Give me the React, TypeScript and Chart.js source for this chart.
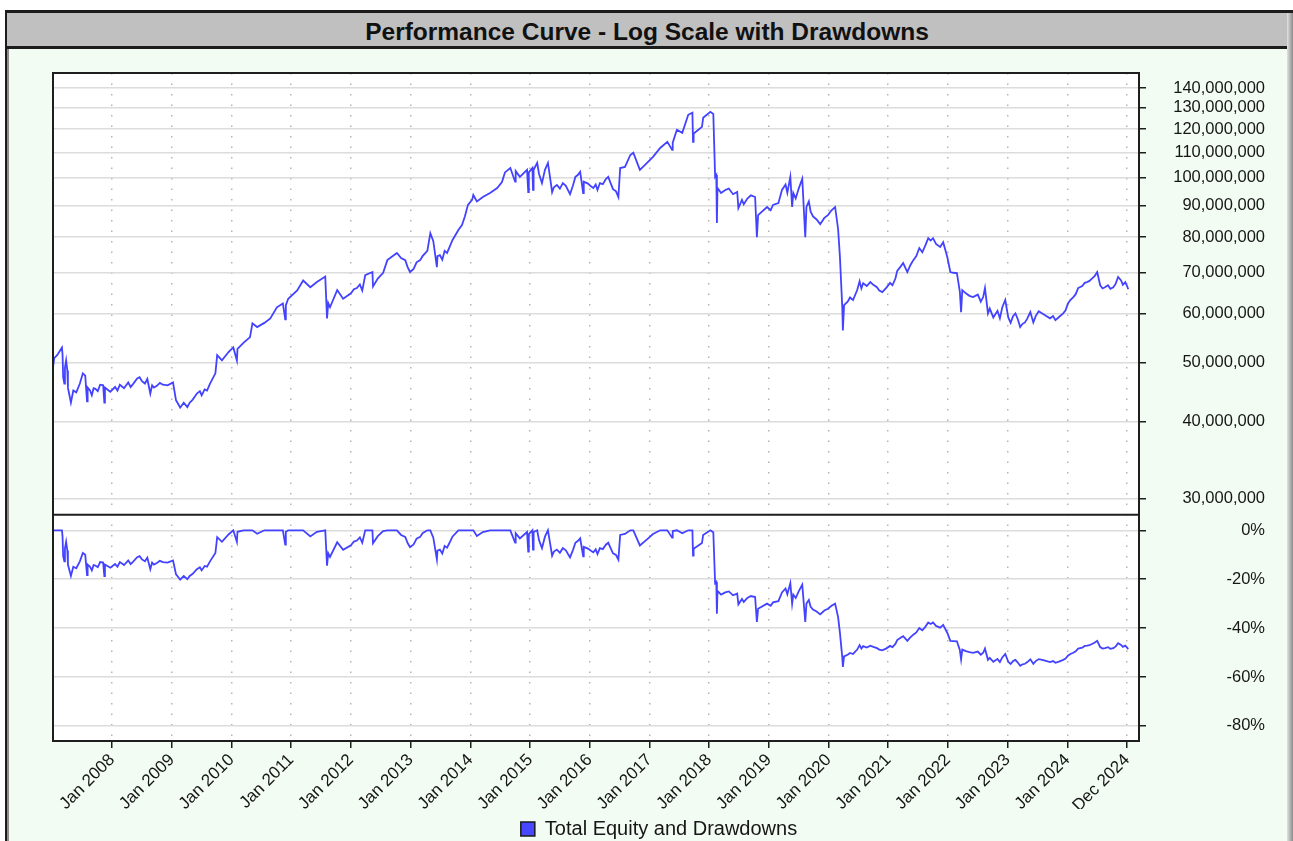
import React, { useEffect, useRef } from 'react';
import { Chart, registerables } from 'chart.js';

Chart.register(...registerables);

const FONT = '"Liberation Sans", Arial, Helvetica, sans-serif';

// ---- Data ----
// Dates as decimal years
const dates: number[] = [
  // 2007
  2007.01, 2007.03, 2007.08, 2007.16, 2007.17, 2007.18, 2007.20, 2007.21, 2007.23, 2007.25,
  2007.26, 2007.31, 2007.35, 2007.40, 2007.46, 2007.51, 2007.55, 2007.58, 2007.59, 2007.63,
  2007.66, 2007.69, 2007.72, 2007.76, 2007.80, 2007.85, 2007.87, 2007.88, 2007.97,
  // 2008
  2008.05, 2008.09, 2008.13, 2008.20, 2008.27, 2008.31, 2008.35, 2008.42, 2008.46, 2008.50,
  2008.55, 2008.59, 2008.64, 2008.67, 2008.70, 2008.75, 2008.80, 2008.85, 2008.93,
  // 2009
  2009.02, 2009.07, 2009.10, 2009.14, 2009.20, 2009.26, 2009.30, 2009.35, 2009.42, 2009.47,
  2009.50, 2009.55, 2009.59, 2009.64, 2009.73, 2009.76, 2009.84, 2009.95,
  // 2010
  2010.03, 2010.09, 2010.10, 2010.20, 2010.31, 2010.35, 2010.43, 2010.55, 2010.65, 2010.76,
  2010.86, 2010.90, 2010.91, 2010.95,
  // 2011
  2011.10, 2011.20, 2011.32, 2011.43, 2011.57, 2011.60, 2011.62, 2011.65, 2011.77, 2011.87,
  // 2012
  2012.00, 2012.05, 2012.10, 2012.15, 2012.19, 2012.24, 2012.36, 2012.37, 2012.45, 2012.54,
  2012.61, 2012.77, 2012.84, 2012.91, 2012.95, 2012.99,
  // 2013
  2013.05, 2013.10, 2013.16, 2013.20, 2013.28, 2013.33, 2013.38, 2013.44, 2013.45, 2013.49,
  2013.53, 2013.57, 2013.61, 2013.65, 2013.70, 2013.80, 2013.86, 2013.91, 2013.96,
  // 2014
  2014.03, 2014.05, 2014.11, 2014.21, 2014.33, 2014.45, 2014.53, 2014.58, 2014.67, 2014.75,
  2014.76, 2014.83, 2014.95, 2014.97, 2014.98,
  // 2015
  2015.04, 2015.05, 2015.06, 2015.12, 2015.15, 2015.20, 2015.25, 2015.30, 2015.33, 2015.37,
  2015.40, 2015.45, 2015.50, 2015.55, 2015.60, 2015.67, 2015.72, 2015.76, 2015.80, 2015.84,
  2015.89, 2015.90, 2015.97,
  // 2016
  2016.02, 2016.06, 2016.10, 2016.13, 2016.17, 2016.22, 2016.27, 2016.31, 2016.35, 2016.39,
  2016.44, 2016.48, 2016.51, 2016.59, 2016.68, 2016.73, 2016.84, 2016.96,
  // 2017
  2017.06, 2017.18, 2017.30, 2017.38, 2017.39, 2017.46, 2017.55, 2017.65, 2017.72, 2017.73,
  2017.74, 2017.82, 2017.88, 2017.90,
  // 2018
  2018.02, 2018.07, 2018.10, 2018.12, 2018.13, 2018.14, 2018.20, 2018.27, 2018.33, 2018.40,
  2018.47, 2018.49, 2018.55, 2018.58, 2018.64, 2018.70, 2018.77, 2018.80, 2018.82, 2018.97,
  // 2019
  2019.03, 2019.07, 2019.16, 2019.22, 2019.28, 2019.31, 2019.36, 2019.39, 2019.41, 2019.45,
  2019.50, 2019.56, 2019.61, 2019.63, 2019.67, 2019.70, 2019.74, 2019.80, 2019.86, 2019.93,
  2019.99,
  // 2020
  2020.05, 2020.11, 2020.16, 2020.19, 2020.23, 2020.24, 2020.26, 2020.32, 2020.36, 2020.41,
  2020.48, 2020.52, 2020.55, 2020.58, 2020.64, 2020.70, 2020.75, 2020.81, 2020.85, 2020.90,
  2020.97,
  // 2021
  2021.03, 2021.07, 2021.12, 2021.15, 2021.20, 2021.25, 2021.32, 2021.37, 2021.42, 2021.47,
  2021.52, 2021.57, 2021.62, 2021.67, 2021.71, 2021.75, 2021.80, 2021.87, 2021.92, 2021.99,
  // 2022
  2022.04, 2022.09, 2022.15, 2022.20, 2022.22, 2022.24, 2022.30, 2022.36, 2022.42, 2022.50,
  2022.55, 2022.59, 2022.62, 2022.67, 2022.70, 2022.76, 2022.83, 2022.87, 2022.91, 2022.96,
  // 2023
  2023.01, 2023.05, 2023.09, 2023.13, 2023.17, 2023.21, 2023.25, 2023.29, 2023.33, 2023.38,
  2023.43, 2023.47, 2023.52, 2023.58, 2023.64, 2023.71, 2023.76, 2023.80, 2023.86, 2023.93,
  2023.97,
  // 2024
  2024.01, 2024.05, 2024.10, 2024.14, 2024.18, 2024.25, 2024.29, 2024.33, 2024.37, 2024.42,
  2024.46, 2024.50, 2024.55, 2024.59, 2024.63, 2024.68, 2024.72, 2024.77, 2024.81, 2024.85,
  2024.90, 2024.93, 2024.97, 2025.00, 2025.02,
];

// Total equity, in millions
const equity: number[] = [
  // 2007
  49.1, 50.8, 51.4, 52.9, 51.5, 47.3, 46.2, 49.0, 50.4, 48.5,
  45.5, 43.0, 45.0, 44.7, 46.2, 48.0, 47.6, 43.2, 45.5, 45.0,
  44.2, 45.4, 45.3, 44.9, 46.0, 45.9, 43.0, 45.5, 44.8,
  // 2008
  45.6, 45.0, 46.0, 45.4, 46.4, 45.6, 46.1, 47.1, 47.3, 46.6,
  46.2, 47.0, 44.5, 45.9, 45.5, 45.8, 46.3, 46.0, 45.9,
  // 2009
  46.4, 43.4, 42.9, 42.2, 43.0, 42.3, 43.0, 43.5, 44.5, 44.9,
  44.2, 45.2, 45.0, 46.2, 48.0, 51.4, 50.4, 52.0,
  // 2010
  52.9, 50.4, 52.6, 53.8, 55.0, 57.9, 57.1, 58.0, 59.0, 61.5,
  62.4, 58.8, 62.0, 63.5,
  // 2011
  65.5, 68.0, 66.3, 67.6, 69.0, 59.0, 62.5, 61.5, 65.6, 63.5,
  // 2012
  64.8, 65.8, 66.1, 67.0, 65.5, 69.4, 70.2, 66.5, 68.5, 70.0,
  73.4, 75.4, 74.0, 73.4, 71.5, 70.2,
  // 2013
  71.0, 72.8, 73.4, 74.5, 76.0, 81.2, 78.8, 71.5, 74.5, 74.8,
  73.5, 76.0, 75.4, 77.0, 79.1, 82.2, 83.7, 86.5, 90.3,
  // 2014
  92.0, 93.7, 91.5, 93.0, 94.4, 96.2, 98.4, 102.0, 103.7, 98.5,
  102.5, 100.3, 103.0, 94.7, 102.0,
  // 2015
  103.7, 95.5, 103.0, 105.7, 101.5, 98.0, 103.0, 105.7, 101.0, 94.7,
  96.5, 97.3, 96.0, 98.0, 97.0, 94.0, 97.2, 100.3, 101.0, 102.2,
  94.4, 98.5, 97.8,
  // 2016
  96.8, 96.2, 97.5, 95.5, 98.0, 97.6, 99.5, 100.3, 98.0, 95.8,
  95.0, 93.0, 103.7, 104.1, 108.9, 109.8, 103.0, 105.7,
  // 2017
  108.1, 111.8, 114.4, 111.0, 114.0, 119.7, 118.3, 126.6, 127.6, 114.4,
  118.0, 119.7, 121.0, 125.2,
  // 2018
  128.0, 127.0, 100.3, 101.0, 84.4, 96.2, 94.4, 95.5, 96.0, 94.0,
  94.8, 89.2, 92.0, 90.5, 92.5, 93.6, 93.0, 80.0, 86.9, 89.6,
  // 2019
  88.5, 90.3, 90.9, 95.5, 97.5, 94.5, 100.3, 89.6, 94.4, 92.5,
  96.0, 99.6, 80.0, 89.6, 91.5, 88.0, 86.5, 85.5, 84.0, 86.0,
  86.9,
  // 2020
  88.5, 89.6, 82.5, 74.5, 61.5, 56.4, 62.0, 62.8, 63.8, 63.2,
  65.6, 67.8, 66.0, 67.3, 66.6, 67.6, 66.9, 66.3, 65.5, 65.1,
  66.2,
  // 2021
  67.4, 66.8, 68.5, 70.5, 71.5, 72.6, 70.2, 72.0, 73.4, 74.5,
  76.8, 75.6, 77.5, 79.7, 79.0, 79.7, 78.0, 77.1, 78.5, 74.2,
  // 2022
  70.2, 70.0, 69.9, 65.1, 60.4, 65.6, 64.8, 64.2, 63.9, 64.5,
  62.8, 63.9, 66.1, 60.1, 61.2, 59.2, 60.7, 59.0, 61.5, 63.2,
  // 2023
  59.2, 58.0, 59.5, 60.1, 58.8, 57.1, 57.8, 58.1, 59.0, 60.4,
  58.1, 59.5, 60.6, 60.1, 59.6, 59.0, 59.5, 58.6, 59.3, 60.1,
  60.8,
  // 2024
  62.4, 63.2, 63.9, 64.6, 66.1, 66.6, 67.4, 67.6, 67.9, 68.6,
  69.2, 70.2, 66.8, 66.0, 66.3, 66.8, 65.9, 66.3, 67.2, 68.9,
  68.0, 66.9, 67.6, 66.6, 65.8,
];

// Drawdown, in percent
const drawdown: number[] = [
  // 2007
  0, 0, 0, 0, -2.6, -10.6, -12.7, -7.4, -4.7, -8.3,
  -14.0, -18.7, -14.9, -15.5, -12.7, -9.3, -10.0, -18.3, -14.0, -14.9,
  -16.4, -14.2, -14.4, -15.1, -13.0, -13.2, -18.7, -14.0, -15.3,
  // 2008
  -13.8, -14.9, -13.0, -14.2, -12.3, -13.8, -12.9, -11.0, -10.6, -11.9,
  -12.7, -11.2, -15.9, -13.2, -14.0, -13.4, -12.5, -13.0, -13.2,
  // 2009
  -12.3, -18.0, -18.9, -20.2, -18.7, -20.0, -18.7, -17.8, -15.9, -15.1,
  -16.4, -14.6, -14.9, -12.7, -9.3, -2.8, -4.7, -1.7,
  // 2010
  0, -4.7, -0.6, 0, 0, 0, -1.4, 0, 0, 0,
  0, -5.8, -0.6, 0,
  // 2011
  0, 0, -2.5, -0.6, 0, -14.5, -9.4, -10.9, -4.9, -8.0,
  // 2012
  -6.1, -4.6, -4.2, -2.9, -5.1, 0, 0, -5.3, -2.4, -0.3,
  0, 0, -1.9, -2.7, -5.2, -6.9,
  // 2013
  -5.8, -3.4, -2.7, -1.2, 0, 0, -3.0, -11.9, -8.3, -7.9,
  -9.5, -6.4, -7.1, -5.2, -2.6, 0, 0, 0, 0,
  // 2014
  0, 0, -2.3, -0.7, 0, 0, 0, 0, 0, -5.0,
  -1.2, -3.3, -0.7, -8.7, -1.6,
  // 2015
  0, -7.9, -0.7, 0, -4.0, -7.3, -2.6, 0, -4.4, -10.4,
  -8.7, -7.9, -9.2, -7.3, -8.2, -11.1, -8.0, -5.1, -4.4, -3.3,
  -10.7, -6.8, -7.5,
  // 2016
  -8.4, -9.0, -7.8, -9.7, -7.3, -7.7, -5.9, -5.1, -7.3, -9.4,
  -10.1, -12.0, -1.9, -1.5, 0, 0, -6.2, -3.7,
  // 2017
  -1.5, 0, 0, -3.0, -0.3, 0, -1.2, 0, 0, -10.3,
  -7.5, -6.2, -5.2, -1.9,
  // 2018
  0, -0.8, -21.6, -21.1, -34.1, -24.8, -26.3, -25.4, -25.0, -26.6,
  -25.9, -30.3, -28.1, -29.3, -27.7, -26.9, -27.3, -37.5, -32.1, -30.0,
  // 2019
  -30.9, -29.5, -29.0, -25.4, -23.8, -26.2, -21.6, -30.0, -26.3, -27.7,
  -25.0, -22.2, -37.5, -30.0, -28.5, -31.3, -32.4, -33.2, -34.4, -32.8,
  -32.1,
  // 2020
  -30.9, -30.0, -35.5, -41.8, -52.0, -55.9, -51.6, -50.9, -50.2, -50.6,
  -48.8, -47.0, -48.4, -47.4, -48.0, -47.2, -47.7, -48.2, -48.8, -49.1,
  -48.3,
  // 2021
  -47.3, -47.8, -46.5, -44.9, -44.1, -43.3, -45.2, -43.8, -42.7, -41.8,
  -40.0, -40.9, -39.5, -37.7, -38.3, -37.7, -39.1, -39.8, -38.7, -42.0,
  // 2022
  -45.2, -45.3, -45.4, -49.1, -52.8, -48.8, -49.4, -49.8, -50.1, -49.6,
  -50.9, -50.1, -48.4, -53.0, -52.2, -53.8, -52.6, -53.9, -52.0, -50.6,
  // 2023
  -53.8, -54.7, -53.5, -53.0, -54.1, -55.4, -54.8, -54.6, -53.9, -52.8,
  -54.6, -53.5, -52.7, -53.0, -53.4, -53.9, -53.5, -54.2, -53.7, -53.0,
  -52.5,
  // 2024
  -51.3, -50.6, -50.1, -49.5, -48.4, -48.0, -47.3, -47.2, -47.0, -46.4,
  -45.9, -45.2, -47.8, -48.4, -48.2, -47.8, -48.5, -48.2, -47.5, -46.2,
  -46.9, -47.7, -47.2, -48.0, -48.6,
];

// Axis ticks
const equityTicks: number[] = [30, 40, 50, 60, 70, 80, 90, 100, 110, 120, 130, 140];
const drawdownTicks: number[] = [0, -20, -40, -60, -80];
const yearTicks: number[] = [
  2008, 2009, 2010, 2011, 2012, 2013, 2014, 2015, 2016, 2017, 2018, 2019, 2020, 2021, 2022,
  2023, 2024, 2025,
];
const yearTickLabels: string[] = [
  'Jan 2008', 'Jan 2009', 'Jan 2010', 'Jan 2011', 'Jan 2012', 'Jan 2013', 'Jan 2014',
  'Jan 2015', 'Jan 2016', 'Jan 2017', 'Jan 2018', 'Jan 2019', 'Jan 2020', 'Jan 2021',
  'Jan 2022', 'Jan 2023', 'Jan 2024', 'Dec 2024',
];

const TITLE = 'Performance Curve - Log Scale with Drawdowns';
const LEGEND_LABEL = 'Total Equity and Drawdowns';

const LINE = '#4343ff';
const TEXT = '#161616';
const MINT = '#f2fcf2';

export default function App() {
  const ref = useRef<HTMLCanvasElement>(null);

  useEffect(() => {
    const canvas = ref.current;
    if (!canvas) return;

    const n = Math.min(dates.length, equity.length, drawdown.length);
    const eqPoints = [] as { x: number; y: number }[];
    const ddPoints = [] as { x: number; y: number }[];
    for (let i = 0; i < n; i++) {
      eqPoints.push({ x: dates[i], y: equity[i] });
      ddPoints.push({ x: dates[i], y: drawdown[i] });
    }

    const framePlugin = {
      id: 'panelFrame',
      beforeDraw(chart: any) {
        const { ctx, chartArea: a } = chart;
        ctx.save();
        ctx.fillStyle = '#ffffff';
        ctx.fillRect(a.left, a.top, a.right - a.left, a.bottom - a.top);
        ctx.restore();
      },
      afterDatasetsDraw(chart: any) {
        const { ctx, chartArea: a, scales } = chart;
        ctx.save();
        ctx.strokeStyle = '#1e1e1e';
        ctx.lineWidth = 2;
        ctx.strokeRect(a.left, a.top, a.right - a.left, a.bottom - a.top);
        const yDiv = scales.yEq.bottom;
        ctx.beginPath();
        ctx.moveTo(a.left, yDiv);
        ctx.lineTo(a.right, yDiv);
        ctx.stroke();
        ctx.restore();
      },
    };

    const chart = new Chart(canvas, {
      type: 'line',
      data: {
        datasets: [
          {
            label: LEGEND_LABEL,
            data: eqPoints,
            xAxisID: 'x',
            yAxisID: 'yEq',
            borderColor: LINE,
            backgroundColor: LINE,
            borderWidth: 1.8,
            pointRadius: 0,
            tension: 0,
          },
          {
            label: 'Drawdown',
            data: ddPoints,
            xAxisID: 'x',
            yAxisID: 'yDD',
            borderColor: LINE,
            backgroundColor: LINE,
            borderWidth: 1.8,
            pointRadius: 0,
            tension: 0,
          },
        ],
      },
      options: {
        responsive: false,
        maintainAspectRatio: false,
        animation: false,
        events: [],
        font: { family: FONT },
        layout: { padding: { left: 44, top: 24, right: 22, bottom: 0 } },
        plugins: {
          tooltip: { enabled: false },
          title: { display: false },
          legend: {
            display: true,
            position: 'bottom',
            labels: {
              font: { family: FONT, size: 20 },
              color: TEXT,
              boxWidth: 14,
              boxHeight: 14,
              padding: 10,
              generateLabels: () => [
                {
                  text: LEGEND_LABEL,
                  fillStyle: '#4747ff',
                  strokeStyle: '#1a1a1a',
                  lineWidth: 1.5,
                  hidden: false,
                  datasetIndex: 0,
                  fontColor: TEXT,
                },
              ],
            },
          },
        },
        scales: {
          x: {
            type: 'linear',
            position: 'bottom',
            min: 2007.01,
            max: 2025.2,
            afterBuildTicks: (s: any) => {
              s.ticks = yearTicks.map((v) => ({ value: v }));
            },
            afterFit: (s: any) => {
              s.height = 68;
              s.paddingLeft = 0;
              s.paddingRight = 0;
            },
            ticks: {
              autoSkip: false,
              minRotation: 45,
              maxRotation: 45,
              padding: 2,
              color: TEXT,
              font: { family: FONT, size: 17 },
              callback: (v: any) => {
                const i = yearTicks.indexOf(Number(v));
                return i >= 0 ? yearTickLabels[i] : '';
              },
            },
            grid: {
              color: '#b4b4b4',
              lineWidth: 1.5,
              tickColor: '#1e1e1e',
              tickWidth: 1.5,
              tickLength: 7,
              tickBorderDash: [],
            },
            border: { display: false, dash: [1.5, 9] },
          },
          yEq: {
            type: 'logarithmic',
            position: 'right',
            stack: 'panels',
            stackWeight: 441,
            weight: 0,
            min: 28.25,
            max: 148.1,
            afterBuildTicks: (s: any) => {
              s.ticks = equityTicks.map((v) => ({ value: v }));
            },
            afterFit: (s: any) => {
              s.width = 126;
              s.paddingTop = 0;
              s.paddingBottom = 0;
            },
            ticks: {
              crossAlign: 'far',
              padding: 27,
              color: TEXT,
              font: { family: FONT, size: 16.5 },
              callback: (v: any) => Math.round(Number(v) * 1000000).toLocaleString('en-US'),
            },
            grid: {
              color: '#dcdcdc',
              lineWidth: 1.5,
              tickColor: '#1e1e1e',
              tickWidth: 1.5,
              tickLength: 7,
            },
            border: { display: false },
          },
          yDD: {
            type: 'linear',
            position: 'right',
            stack: 'panels',
            stackWeight: 226,
            weight: 1,
            min: -86.2,
            max: 6.4,
            afterBuildTicks: (s: any) => {
              s.ticks = drawdownTicks.map((v) => ({ value: v }));
            },
            afterFit: (s: any) => {
              s.width = 126;
              s.paddingTop = 0;
              s.paddingBottom = 0;
            },
            ticks: {
              crossAlign: 'far',
              padding: 10.5,
              color: TEXT,
              font: { family: FONT, size: 16.5 },
              callback: (v: any) => `${Math.round(Number(v))}%`,
            },
            grid: {
              color: '#dcdcdc',
              lineWidth: 1.5,
              tickColor: '#1e1e1e',
              tickWidth: 1.5,
              tickLength: 7,
            },
            border: { display: false },
          },
        },
      },
      plugins: [framePlugin],
    } as any);

    return () => {
      chart.destroy();
    };
  }, []);

  return (
    <div
      style={{
        position: 'fixed',
        left: 0,
        top: 0,
        width: 1293,
        height: 841,
        background: '#ffffff',
        overflow: 'hidden',
      }}
    >
      <div
        style={{
          position: 'absolute',
          left: 5,
          top: 10,
          width: 1288,
          height: 831,
          boxSizing: 'border-box',
          borderLeft: '2px solid #1c1c1c',
          borderTop: '3px solid #1c1c1c',
          background: MINT,
          overflow: 'hidden',
        }}
      >
        <div
          style={{
            position: 'absolute',
            left: 0,
            top: 0,
            width: 1280,
            height: 33,
            background: '#c0c0c0',
            borderBottom: '3px solid #1c1c1c',
            textAlign: 'center',
            fontFamily: FONT,
            fontWeight: 'bold',
            fontSize: 24.5,
            lineHeight: '33px',
            color: '#111111',
          }}
        >
          <span style={{ position: 'relative', top: 2 }}>{TITLE}</span>
        </div>
        <div
          style={{
            position: 'absolute',
            left: 0,
            top: 36,
            width: 2,
            height: 800,
            background: '#8c8c8c',
          }}
        />
        <div
          style={{
            position: 'absolute',
            left: 1280,
            top: 0,
            width: 6,
            height: 831,
            background: 'linear-gradient(to right, #e2e2e2, #8a8a8a)',
          }}
        />
        <canvas
          ref={ref}
          width={1278}
          height={800}
          style={{ position: 'absolute', left: 2, top: 36, width: 1278, height: 800 }}
        />
      </div>
    </div>
  );
}
